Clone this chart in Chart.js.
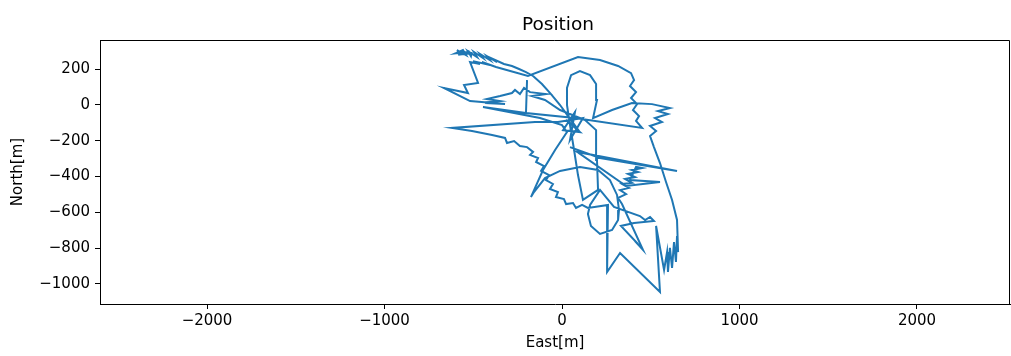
<!DOCTYPE html>
<html><head><meta charset="utf-8">
<script src="https://cdn.jsdelivr.net/npm/chart.js@4/dist/chart.umd.min.js"></script>
<style>html,body{margin:0;padding:0;background:#fff}#wrap{width:1011px;height:356px}</style>
</head><body><div id="wrap"><canvas id="c" width="1011" height="356"></canvas></div>
<script>
// Trajectory (East, North) in metres
const eastM = [
 -575,-592,-541,-558,-600,-520,-585,-510,-513,-530,-479,-496,-445,-462,-406,-423,-366,-389,-327,-282,-242,-203,-163,-113,-62,-11,34,79,
 23,101,6,73,45,118,-23,
 -152,-620,-507,-394,-321,-310,-270,-237,-197,-163,-180,-135,-146,-101,-118,-73,-90,-51,-68,-23,-34,11,23,62,79,113,146,259,
 254,327,552,530,575,592,597,608,620,631,642,648,654,648,620,586,552,518,496,530,496,563,524,597,541,608,507,394,282,175,
 197,192,158,101,51,28,28,45,68,90,118,
 203,197,192,130,-11,-96,
 -169,-90,-180,-214,-237,-265,-282,-349,-423,-349,-434,-321,-518,-665,-530,-552,-473,-518,-462,-501,-406,-451,-372,-192,
 90,214,316,389,406,383,417,389,423,400,434,417,451,73,
 -203,-197,-203,-445,-124,0,
 28,-39,-107,-152,-175,-158,-96,-11,101,203,270,310,321,
 316,282,214,163,146,158,214,
 293,439,468,496,518,406,332,428,411,456,
 338,316,361,327,377,338,394,355,411,372,428,394,451,417,383,552,361,
 85,648,214,45
];
const northM = [
 295,306,278,306,288,296,280,290,272,300,267,295,261,284,250,272,239,256,228,217,200,183,161,116,60,-1,-63,-124,
 -85,-152,-141,-40,-196,-74,-96,
 -96,-129,-146,-169,-185,-213,-202,-230,-236,-263,-280,-297,-319,-342,-369,-392,-420,-442,-470,-487,-515,-526,-554,-548,-576,-559,-576,-559,
 -933,-827,-1045,-676,-922,-822,-933,-799,-911,-766,-877,-732,-822,-643,-531,-431,-325,-236,-174,-146,-118,-96,-74,-51,-35,-18,4,10,-29,-74,
 27,116,166,189,166,94,-1,-113,-252,-392,-531,
 -475,-308,-141,-85,-29,27,
 49,60,71,94,60,83,66,49,32,21,10,4,21,94,66,111,122,239,228,244,222,239,211,161,
 267,250,217,177,138,105,71,38,4,-29,-63,-90,-129,-74,
 -46,138,-46,-12,-74,-113,
 -152,-252,-364,-464,-515,-487,-409,-369,-347,-364,-420,-503,-587,
 -643,-699,-721,-676,-609,-559,-475,
 -570,-621,-643,-626,-649,-660,-676,-777,-760,-809,
 -554,-520,-498,-476,-464,-442,-436,-414,-403,-386,-375,-364,-353,-347,-420,-431,-453,
 -263,-369,-297,-236
];
const xTickValues = [-2000, -1000, 0, 1000, 2000];
const yTickValues = [-1000, -800, -600, -400, -200, 0, 200];
const xLimits = [-2603, 2524];
const yLimits = [-1112, 362];
const chartTitle = 'Position';
const xAxisLabel = 'East[m]';
const yAxisLabel = 'North[m]';

const FONT = 'DejaVu Sans';
const TICK_SIZE = 15;
const fmt = v => (v < 0 ? '\u2212' + Math.abs(v) : String(v));

// Top/right spines and the title centred over the axes (as matplotlib does)
const framePlugin = {
  id: 'frame',
  afterDraw(chart) {
    const {ctx, chartArea: a} = chart;
    ctx.save();
    ctx.strokeStyle = '#000';
    ctx.lineWidth = 1;
    ctx.beginPath();
    ctx.moveTo(a.left, a.top + 0.5);
    ctx.lineTo(a.right - 0.5, a.top + 0.5);
    ctx.lineTo(a.right - 0.5, a.bottom);
    ctx.stroke();
    ctx.fillStyle = '#000';
    ctx.font = '18.5px "' + FONT + '"';
    ctx.textAlign = 'center';
    ctx.textBaseline = 'alphabetic';
    ctx.fillText(chartTitle, (a.left + a.right) / 2 + 3, a.top - 10);
    ctx.restore();
  }
};

new Chart(document.getElementById('c'), {
  type: 'scatter',
  data: {
    datasets: [{
      data: eastM.map((x, i) => ({x: x, y: northM[i]})),
      showLine: true,
      borderColor: '#1f77b4',
      borderWidth: 2,
      pointRadius: 0,
      pointHoverRadius: 0,
      fill: false,
      tension: 0
    }]
  },
  options: {
    responsive: false,
    animation: false,
    layout: {padding: {left: 0, right: 1, top: 40, bottom: 0}},
    plugins: {
      legend: {display: false},
      tooltip: {enabled: false},
      title: {display: false}
    },
    scales: {
      x: {
        type: 'linear', min: xLimits[0], max: xLimits[1],
        afterBuildTicks: s => { s.ticks = xTickValues.map(v => ({value: v})); },
        afterFit: s => { s.height = 52; },
        ticks: {callback: fmt, color: '#000', font: {family: FONT, size: TICK_SIZE}, padding: 3, maxRotation: 0, autoSkip: false},
        grid: {drawOnChartArea: false, drawTicks: true, tickLength: 5, tickColor: '#000', color: '#000'},
        border: {display: true, color: '#000', width: 1},
        title: {display: true, text: xAxisLabel, color: '#000', font: {family: FONT, size: TICK_SIZE}, padding: {top: 2, bottom: 3.8}}
      },
      y: {
        type: 'linear', min: yLimits[0], max: yLimits[1],
        afterBuildTicks: s => { s.ticks = yTickValues.map(v => ({value: v})); },
        afterFit: s => { s.width = 100; },
        ticks: {callback: fmt, color: '#000', font: {family: FONT, size: TICK_SIZE}, padding: 5, autoSkip: false},
        grid: {drawOnChartArea: false, drawTicks: true, tickLength: 5, tickColor: '#000', color: '#000'},
        border: {display: true, color: '#000', width: 1},
        title: {display: true, text: yAxisLabel, color: '#000', font: {family: FONT, size: TICK_SIZE}, padding: {top: 9, bottom: 2}}
      }
    }
  },
  plugins: [framePlugin]
});
</script>
</body></html>
